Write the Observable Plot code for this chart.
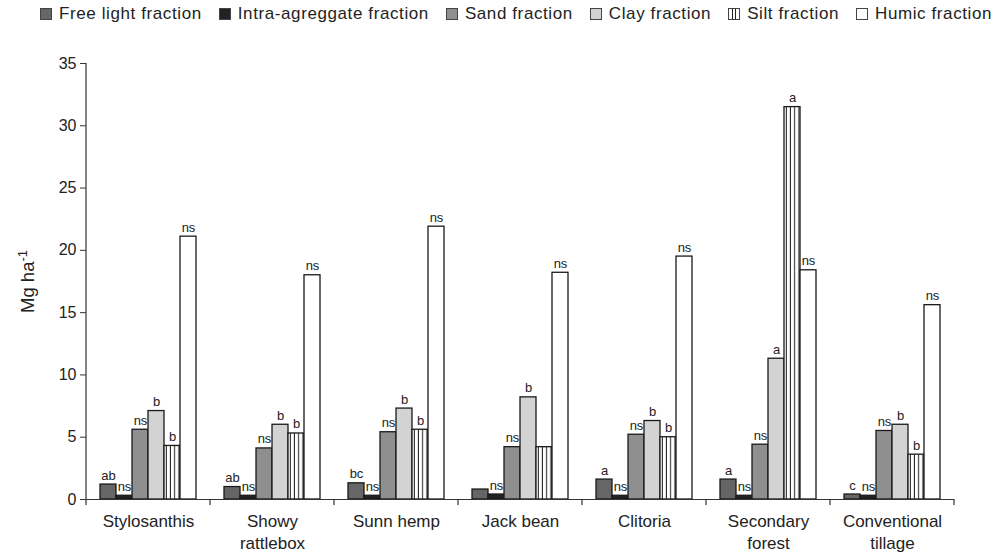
<!DOCTYPE html>
<html><head><meta charset="utf-8">
<script src="https://cdn.jsdelivr.net/npm/d3@7"></script>
<script src="https://cdn.jsdelivr.net/npm/@observablehq/plot@0.6"></script>
<style>
body{margin:0;background:#fff;font-family:"Liberation Sans",Arial,sans-serif;}
#legend{height:28px;display:flex;align-items:center;padding-left:40px;font-size:17px;color:#222;letter-spacing:.6px;white-space:nowrap}
.item{display:flex;align-items:center;margin-right:17px}
.sw{width:12px;height:12px;border:1px solid #444;margin-right:7px;box-sizing:border-box}
</style></head><body><div id="legend"></div><div id="chart"></div>
<script>
const groups = ["Stylosanthis","Showy rattlebox","Sunn hemp","Jack bean","Clitoria","Secondary forest","Conventional tillage"];
const groupLabels = ["Stylosanthis","Showy\nrattlebox","Sunn hemp","Jack bean","Clitoria","Secondary\nforest","Conventional\ntillage"];
const fractions = ["Free light fraction","Intra-agreggate fraction","Sand fraction","Clay fraction","Silt fraction","Humic fraction"];
const freeLight = [1.2, 1.0, 1.3, 0.8, 1.6, 1.6, 0.4];
const intra     = [0.3, 0.3, 0.3, 0.4, 0.3, 0.3, 0.3];
const sand      = [5.6, 4.1, 5.4, 4.2, 5.2, 4.4, 5.5];
const clay      = [7.1, 6.0, 7.3, 8.2, 6.3, 11.3, 6.0];
const silt      = [4.3, 5.3, 5.6, 4.2, 5.0, 31.5, 3.6];
const humic     = [21.1, 18.0, 21.9, 18.2, 19.5, 18.4, 15.6];
const freeLightSig = ["ab","ab","bc","","a","a","c"];
const intraSig     = ["ns","ns","ns","ns","ns","ns","ns"];
const sandSig      = ["ns","ns","ns","ns","ns","ns","ns"];
const claySig      = ["b","b","b","b","b","a","b"];
const siltSig      = ["b","b","b","","b","a","b"];
const humicSig     = ["ns","ns","ns","ns","ns","ns","ns"];
const yTicks = [0,5,10,15,20,25,30,35];
const colors = ["#666666","#222222","#8f8f8f","#d3d3d3","url(#siltPattern)","#ffffff"];
const swatchCss = ["#666666","#222222","#8f8f8f","#d3d3d3","repeating-linear-gradient(90deg,#fff 0 2.5px,#222 2.5px 3.5px)","#ffffff"];

const values = [freeLight, intra, sand, clay, silt, humic];
const sigs = [freeLightSig, intraSig, sandSig, claySig, siltSig, humicSig];
const data = groups.flatMap((g, i) => fractions.map((f, j) => ({group: g, fraction: f, value: values[j][i], sig: sigs[j][i]})));

// legend
const legend = d3.select("#legend");
fractions.forEach((f, j) => {
  const it = legend.append("div").attr("class", "item");
  it.append("div").attr("class", "sw").style("background", swatchCss[j]);
  it.append("span").text(f);
});

const chart = Plot.plot({
  width: 1000, height: 525,
  marginLeft: 83, marginRight: 43, marginTop: 35, marginBottom: 54,
  style: {fontFamily: "'Liberation Sans', Arial, sans-serif", color: "#222", background: "white", overflow: "visible"},
  fx: {domain: groups, padding: 0},
  x: {domain: fractions, paddingInner: 0, paddingOuter: 0.74, axis: null},
  y: {domain: [0, 35]},
  color: {domain: fractions, range: colors},
  marks: [
    Plot.axisY({ticks: yTicks, tickSize: 6, tickPadding: 4, fontSize: 16, label: null, stroke: "#333"}),
    Plot.axisY({ticks: [], tickSize: 0, fontSize: 18.5, label: "Mg ha-1", labelAnchor: "center", labelArrow: "none", labelOffset: 66}),
    Plot.axisFx({anchor: "bottom", tickSize: 0, tickPadding: 12, fontSize: 17, lineHeight: 1.3, label: null, tickFormat: d => groupLabels[groups.indexOf(d)], style: "letter-spacing:.9px"}),
    Plot.barY(data, {fx: "group", x: "fraction", y: "value", fill: "fraction", stroke: "#1a1a1a", strokeWidth: 1.3}),
    Plot.ruleY([0], {stroke: "#333", strokeWidth: 1.2}),
    Plot.text(data, {fx: "group", x: "fraction", y: "value", text: "sig", dy: -5, lineAnchor: "bottom", fontSize: 13, fill: "#222"})
  ]
});
document.getElementById("chart").appendChild(chart);

const svg = d3.select(chart);
// superscript on the y label
svg.selectAll("text").filter(function() { return this.textContent === "Mg ha-1"; }).each(function() {
  const t = d3.select(this);
  t.text("Mg ha");
  t.append("tspan").attr("baseline-shift", "super").attr("font-size", "70%").text("-1");
});
// silt stripe pattern
const pat = svg.insert("defs", ":first-child").append("pattern")
  .attr("id", "siltPattern").attr("patternUnits", "userSpaceOnUse")
  .attr("width", 4.2).attr("height", 10);
pat.append("rect").attr("width", 4.2).attr("height", 10).attr("fill", "#fff");
pat.append("rect").attr("x", 3.2).attr("width", 1).attr("height", 10).attr("fill", "#1a1a1a");

// y axis line and group boundary ticks using the chart's own scales
const fx = chart.scale("fx"), ys = chart.scale("y");
const y0 = ys.apply(0), yTop = ys.apply(35);
const g = svg.append("g").attr("stroke", "#333").attr("stroke-width", 1.2);
g.append("line").attr("x1", fx.apply(groups[0])).attr("x2", fx.apply(groups[0])).attr("y1", yTop).attr("y2", y0);
const bounds = groups.map(d => fx.apply(d)).concat([fx.apply(groups[groups.length - 1]) + fx.bandwidth]);
bounds.forEach(b => g.append("line").attr("x1", b).attr("x2", b).attr("y1", y0).attr("y2", y0 + 6));
</script></body></html>
